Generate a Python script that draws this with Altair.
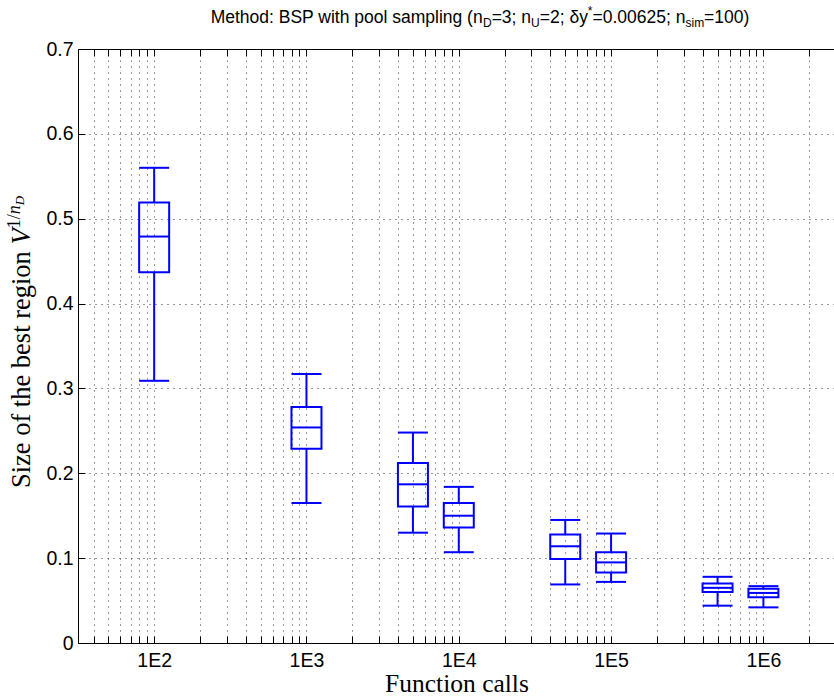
import altair as alt
import pandas as pd

# ---------------- data ----------------
positions = [1e2, 1e3, 5e3, 1e4, 5e4, 1e5, 5e5, 1e6]
whisker_high = [0.560, 0.317, 0.248, 0.184, 0.145, 0.129, 0.078, 0.067]
q3 = [0.519, 0.278, 0.212, 0.165, 0.128, 0.107, 0.070, 0.064]
median = [0.479, 0.254, 0.187, 0.150, 0.114, 0.095, 0.065, 0.059]
q1 = [0.437, 0.229, 0.161, 0.136, 0.099, 0.083, 0.060, 0.054]
whisker_low = [0.309, 0.165, 0.130, 0.107, 0.069, 0.072, 0.044, 0.042]

x_label_values = [1e2, 1e3, 1e4, 1e5, 1e6]
y_tick_values = [0, 0.1, 0.2, 0.3, 0.4, 0.5, 0.6, 0.7]

title_parts = [("Method: BSP with pool sampling (n", "main"), ("D", "sub"),
               ("=3; n", "main"), ("U", "sub"), ("=2; \u03b4y", "main"),
               ("*", "sup"), ("=0.00625; n", "main"), ("sim", "sub"),
               ("=100)", "main")]
ylabel_parts = [("Size of the best region ", "up"), ("V", "it"),
                ("1/", "supup"), ("n", "supit"), ("D", "subsub")]
xlabel_text = "Function calls"

# ---------------- layout ----------------
W, H = 756, 594
PAD = {"left": 78, "top": 49, "right": 0, "bottom": 54}
BLUE = "#0000ff"
HALF = 0.0985  # half box width, in decades

minor_values = []
for e in range(1, 7):
    for k in range(1, 10):
        v = k * 10 ** e
        if 10 ** 1.5 <= v <= 10 ** 6.4635:
            minor_values.append(v)

xs = alt.Scale(type="log", domain=[10 ** 1.5, 10 ** 6.4635], nice=False)
ys = alt.Scale(domain=[0, 0.7], nice=False, zero=False)

boxes = pd.DataFrame(dict(pos=positions, whi=whisker_high, q3=q3,
                          med=median, q1=q1, wlo=whisker_low))
base = alt.Chart(boxes).transform_calculate(
    lo=f"datum.pos*pow(10,-{HALF})", hi=f"datum.pos*pow(10,{HALF})")

# main labelled axes
main_axes = base.mark_point(opacity=0).encode(
    x=alt.X("pos:Q", scale=xs, axis=alt.Axis(
        orient="bottom", values=x_label_values,
        labelExpr="'1E' + round(log(datum.value)/LN10)",
        ticks=False, tickSize=0, grid=False, domain=True,
        domainColor="black", domainWidth=1, labelFont="Liberation Sans",
        labelFontSize=19.5, labelColor="black", labelPadding=8, title=None,
        labelFlush=False)),
    y=alt.Y("q1:Q", scale=ys, axis=alt.Axis(
        orient="left", values=y_tick_values,
        labelExpr="datum.value == 0 ? '0' : format(datum.value, '.1f')",
        ticks=False, tickSize=0, grid=False, domain=True,
        domainColor="black", domainWidth=1, labelFont="Liberation Sans",
        labelFontSize=19.5, labelColor="black", labelPadding=5, title=None,
        labelFlush=False)),
)

# grid + inward ticks (bottom & left)
grid_axes = base.mark_point(opacity=0).encode(
    x=alt.X("pos:Q", scale=xs, axis=alt.Axis(
        orient="top", offset=-H, values=minor_values, labels=False,
        domain=False, ticks=True, tickSize=7, tickColor="black",
        grid=True, gridDash=[1, 5], gridColor="#333333", gridWidth=1,
        title=None)),
    y=alt.Y("q1:Q", scale=ys, axis=alt.Axis(
        orient="right", offset=-W, values=y_tick_values, labels=False,
        domain=False, ticks=True, tickSize=7, tickColor="black",
        grid=True, gridDash=[1, 5], gridColor="#333333", gridWidth=1,
        title=None)),
)

# top border with inward ticks
top_axis = base.mark_point(opacity=0).encode(
    x=alt.X("pos:Q", scale=xs, axis=alt.Axis(
        orient="bottom", offset=-H, values=minor_values, labels=False,
        domain=True, domainColor="black", domainWidth=1, ticks=True,
        tickSize=7, tickColor="black", grid=False, title=None)),
    y=alt.Y("q1:Q", scale=ys, axis=None),
)

xn = dict(scale=xs, axis=None)
yn = dict(scale=ys, axis=None)

box_rect = base.mark_rect(fillOpacity=0, stroke=BLUE, strokeWidth=2).encode(
    x=alt.X("lo:Q", **xn), x2="hi:Q", y=alt.Y("q1:Q", **yn), y2="q3:Q")
med_rule = base.mark_rule(color=BLUE, strokeWidth=2).encode(
    x=alt.X("lo:Q", **xn), x2="hi:Q", y=alt.Y("med:Q", **yn))
cap_hi = base.mark_rule(color=BLUE, strokeWidth=2).encode(
    x=alt.X("lo:Q", **xn), x2="hi:Q", y=alt.Y("whi:Q", **yn))
cap_lo = base.mark_rule(color=BLUE, strokeWidth=2).encode(
    x=alt.X("lo:Q", **xn), x2="hi:Q", y=alt.Y("wlo:Q", **yn))
wh_hi = base.mark_rule(color=BLUE, strokeWidth=2).encode(
    x=alt.X("pos:Q", **xn), y=alt.Y("q3:Q", **yn), y2="whi:Q")
wh_lo = base.mark_rule(color=BLUE, strokeWidth=2).encode(
    x=alt.X("pos:Q", **xn), y=alt.Y("wlo:Q", **yn), y2="q1:Q")

# ---------------- text helpers ----------------
SANS_W = {' ': 278, '(': 333, ')': 333, '*': 389, '.': 278, '/': 278, ':': 278,
          ';': 278, '=': 584, 'B': 667, 'D': 722, 'M': 833, 'P': 667, 'S': 667,
          'U': 722, 'a': 556, 'd': 556, 'e': 556, 'g': 556, 'h': 556, 'i': 222,
          'l': 222, 'm': 833, 'n': 556, 'o': 556, 'p': 556, 's': 500, 't': 278,
          'w': 722, 'y': 500, '\u03b4': 556}
SERIF_W = {' ': 250, 'S': 556, 'i': 278, 'z': 444, 'e': 444, 'o': 500, 'f': 333,
           't': 278, 'h': 500, 'b': 500, 's': 389, 'r': 333, 'g': 500, 'n': 500,
           'V': 611, '1': 500, '/': 278, 'D': 722, 'F': 556, 'u': 500, 'c': 444,
           'a': 444, 'l': 278}


def twidth(s, table, size):
    return sum(table.get(c, 556) for c in s) / 1000.0 * size


one = alt.Data(values=[{"k": 1}])
texts = []

# title
T_MAIN, T_SUB = 17.5, 12
tstyle = {"main": (T_MAIN, 0), "sub": (T_SUB, 4), "sup": (T_SUB, -8)}
total = sum(twidth(s, SANS_W, tstyle[k][0]) for s, k in title_parts)
tx = 402 - total / 2.0
TY = 23 - PAD["top"]
for s, k in title_parts:
    size, dy = tstyle[k]
    texts.append(alt.Chart(one).mark_text(
        text=s, align="left", baseline="alphabetic", font="Liberation Sans",
        fontSize=size, color="black").encode(
        x=alt.value(tx), y=alt.value(TY + dy)))
    tx += twidth(s, SANS_W, size)

# y label (rotated)
Y_MAIN, Y_SUP, Y_SS = 26.5, 18, 13
ystyle = {"up": (Y_MAIN, 0, "normal"), "it": (Y_MAIN, 0, "italic"),
          "supup": (Y_SUP, 10, "normal"), "supit": (Y_SUP, 10, "italic"),
          "subsub": (Y_SS, 6, "italic")}
ltotal = sum(twidth(s, SERIF_W, ystyle[k][0]) for s, k in ylabel_parts)
ly = 342 - PAD["top"] + ltotal / 2.0
LX = 30 - PAD["left"]
for s, k in ylabel_parts:
    size, raise_, style = ystyle[k]
    texts.append(alt.Chart(one).mark_text(
        text=s, align="left", baseline="alphabetic", font="Liberation Serif",
        fontSize=size, fontStyle=style, angle=270, color="black").encode(
        x=alt.value(LX - raise_), y=alt.value(ly)))
    ly -= twidth(s, SERIF_W, size)

# x label
texts.append(alt.Chart(one).mark_text(
    text=xlabel_text, align="center", baseline="alphabetic",
    font="Liberation Serif", fontSize=25.5, color="black").encode(
    x=alt.value(457 - PAD["left"]), y=alt.value(692 - PAD["top"])))

chart = alt.layer(
    grid_axes, main_axes, top_axis,
    box_rect, med_rule, cap_hi, cap_lo, wh_hi, wh_lo, *texts
).resolve_axis(x="independent", y="independent").properties(
    width=W, height=H,
    autosize=alt.AutoSizeParams(type="none"),
    padding=PAD,
).configure_view(strokeWidth=0).configure(background="white")

chart.save("out.html", embed_options={"renderer": "svg", "actions": False})
